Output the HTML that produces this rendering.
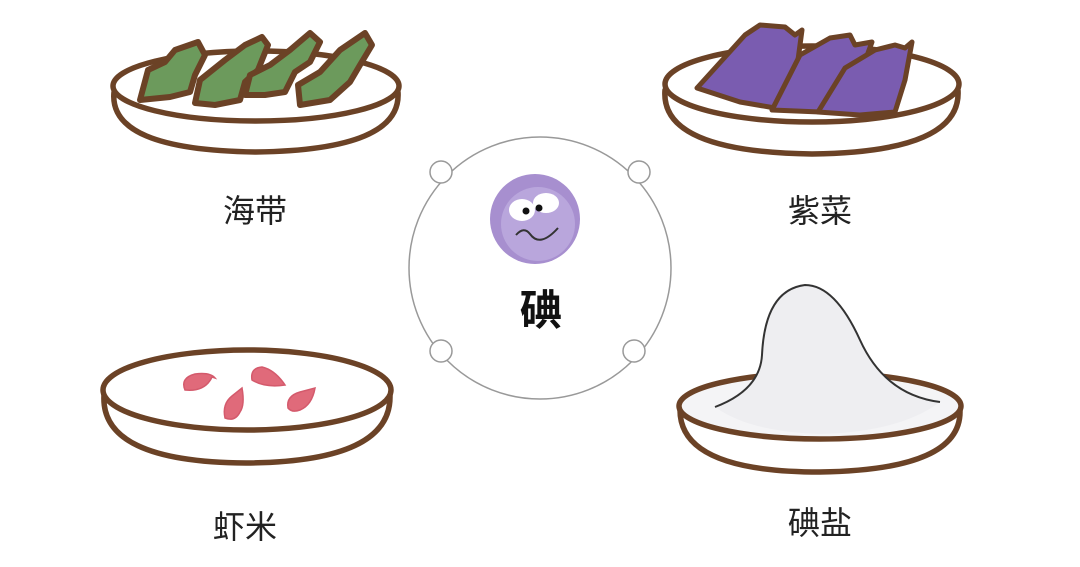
<!DOCTYPE html>
<html><head><meta charset="utf-8"><style>
html,body{margin:0;padding:0;background:#fff;}
svg{display:block;}
text{font-family:"Liberation Sans","Noto Sans CJK SC",sans-serif;}
</style></head><body>
<svg width="1080" height="567" viewBox="0 0 1080 567" xmlns="http://www.w3.org/2000/svg">
<rect width="1080" height="567" fill="#fff"/>
<!-- plate 1 -->
<g fill="#fff" stroke="#6b4226" stroke-width="5.5" stroke-linecap="round">
<path d="M114 92 Q108 150 256 152 Q402 150 398 92"/>
<ellipse cx="256" cy="86" rx="143" ry="35"/>
</g>
<g fill="#6c9a5c" stroke="#6b4226" stroke-width="6" stroke-linejoin="round">
<path d="M140 100 L148 70 L165 62 L175 50 L198 42 L205 55 L195 75 L190 92 L170 97 Z"/>
<path d="M195 103 L200 80 L225 60 L245 45 L262 37 L268 45 L258 70 L245 82 L240 100 L215 105 Z"/>
<path d="M245 95 L250 75 L270 65 L290 50 L310 33 L320 42 L310 62 L295 72 L285 92 L265 95 Z"/>
<path d="M300 105 L298 85 L320 72 L340 50 L365 33 L372 45 L360 65 L350 82 L330 100 Z"/>
</g>
<!-- plate 2 -->
<g fill="#fff" stroke="#6b4226" stroke-width="5.5" stroke-linecap="round">
<path d="M665 90 Q660 152 812 154 Q962 152 958 90"/>
<ellipse cx="812" cy="84" rx="147" ry="38"/>
</g>
<g fill="#7a5cb0" stroke="#6b4226" stroke-width="5" stroke-linejoin="round">
<path d="M697 88 L745 35 L760 25 L785 27 L795 35 L802 30 L798 60 L775 108 L740 102 Z"/>
<path d="M772 110 L800 55 L830 38 L850 35 L855 45 L872 42 L860 75 L850 112 L820 112 Z"/>
<path d="M818 112 L845 68 L875 50 L895 45 L905 48 L912 42 L905 80 L895 112 L860 115 Z"/>
</g>
<!-- plate 3 -->
<g fill="#fff" stroke="#6b4226" stroke-width="5.5" stroke-linecap="round">
<path d="M104 395 Q100 462 246 463 Q392 462 390 395"/>
<ellipse cx="247" cy="390" rx="144" ry="40"/>
</g>
<g fill="#e06a7a" stroke="#d45a6c" stroke-width="1.5">
<path d="M185 390 Q180 378 195 374 Q210 372 215 378 L212 377 Q205 392 185 390 Z"/>
<path d="M225 418 Q222 404 232 396 L242 388 Q245 405 240 412 Q235 422 225 418 Z"/>
<path d="M252 380 Q250 368 262 367 Q275 370 285 385 Q265 388 252 380 Z"/>
<path d="M288 408 Q286 396 300 392 L315 388 Q312 405 300 410 Q292 413 288 408 Z"/>
</g>
<!-- plate 4 -->
<g fill="#fff" stroke="#6b4226" stroke-width="5.5" stroke-linecap="round">
<path d="M680 410 Q680 472 820 472 Q962 470 960 410"/>
<ellipse cx="820" cy="406" rx="141" ry="33" fill="#f4f4f6"/>
</g>
<path d="M715 407 Q760 390 762 355 Q765 290 805 285 Q835 285 860 340 Q885 395 940 402 Q900 432 820 434 Q750 432 715 407 Z" fill="#eeeef1"/>
<path d="M715 407 Q760 390 762 355 Q765 290 805 285 Q835 285 860 340 Q885 395 940 402" fill="none" stroke="#333" stroke-width="2"/>
<!-- center -->
<circle cx="540" cy="268" r="131" fill="#fff" stroke="#999" stroke-width="1.5"/>
<g fill="#fff" stroke="#999" stroke-width="1.5">
<circle cx="441" cy="172" r="11"/><circle cx="639" cy="172" r="11"/>
<circle cx="441" cy="351" r="11"/><circle cx="634" cy="351" r="11"/>
</g>
<circle cx="535" cy="219" r="45" fill="#a78fcf"/>
<circle cx="538" cy="224" r="37" fill="#b9a6dc"/>
<ellipse cx="522" cy="210" rx="13" ry="11" fill="#fff"/>
<ellipse cx="546" cy="203" rx="13" ry="10" fill="#fff"/>
<circle cx="526" cy="211" r="3.5" fill="#111"/><circle cx="539" cy="208" r="3.5" fill="#111"/>
<path d="M516 235 Q524 226 530 234 Q540 248 558 228" fill="none" stroke="#333" stroke-width="2"/>
<text x="541" y="325" font-size="42" font-weight="bold" text-anchor="middle" fill="#111">碘</text>
<g font-size="32" fill="#222" text-anchor="middle">
<text x="255" y="222">海带</text>
<text x="820" y="222">紫菜</text>
<text x="245" y="538">虾米</text>
<text x="820" y="534">碘盐</text>
</g>
</svg>
</body></html>
